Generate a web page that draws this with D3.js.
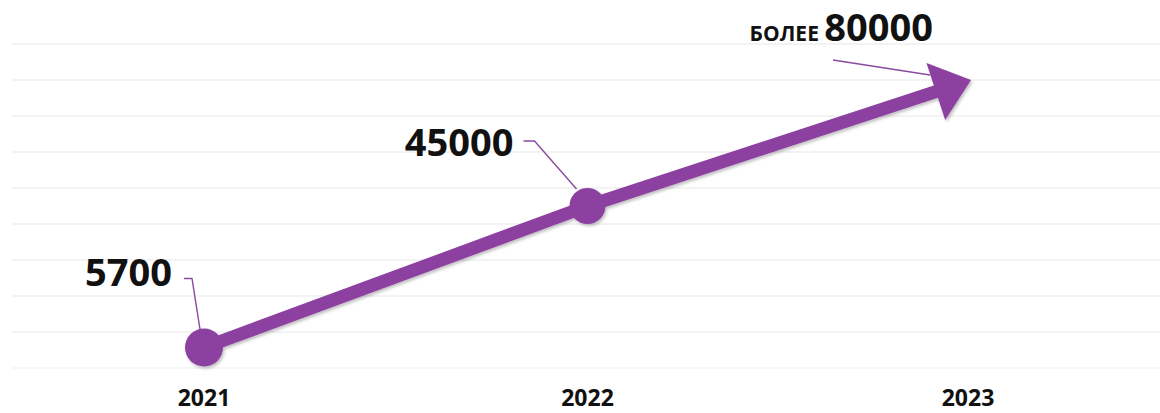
<!DOCTYPE html>
<html>
<head>
<meta charset="utf-8">
<script src="https://cdn.jsdelivr.net/npm/d3@7"></script>
<style>
  body { margin: 0; background: #fff; }
  svg { display: block; font-family: "Open Sans", sans-serif; }
</style>
</head>
<body>
<svg width="1160" height="413"></svg>
<script>
const years = ["2021", "2022", "2023"];
const values = [5700, 45000, 80000];
const labels = ["5700", "45000", "80000"];
const gridTicks = [0, 10000, 20000, 30000, 40000, 50000, 60000, 70000, 80000, 90000];

const svg = d3.select("svg");
const width = +svg.attr("width");
const purple = "#8c3fa0";

const x = d3.scalePoint().domain(years).range([204, 971]);
const y = d3.scaleLinear().domain([0, 90000]).range([368, 44]);

const data = years.map((yr, i) => ({ year: yr, value: values[i], label: labels[i] }));

// soft shadow like the original
const defs = svg.append("defs");
const f = defs.append("filter").attr("id", "shadow").attr("x", "-10%").attr("y", "-30%").attr("width", "120%").attr("height", "160%");
f.append("feDropShadow").attr("dx", 1.5).attr("dy", 2).attr("stdDeviation", 1.5)
  .attr("flood-color", "#000").attr("flood-opacity", 0.25);

// gridlines
svg.append("g")
  .selectAll("line")
  .data(gridTicks)
  .join("line")
  .attr("x1", 12)
  .attr("x2", width)
  .attr("y1", (d) => y(d))
  .attr("y2", (d) => y(d))
  .attr("stroke", (d) => (d === 0 ? "#f5f5f5" : "#efefef"))
  .attr("stroke-width", 1.5);

// arrow head geometry from last segment
const p1 = [x(data[1].year), y(data[1].value)];
const tip = [x(data[2].year), y(data[2].value)];
const dx = tip[0] - p1[0], dy = tip[1] - p1[1];
const len = Math.hypot(dx, dy);
const ux = dx / len, uy = dy / len;
const headLen = 37, headHalf = 30;
const base = [tip[0] - ux * headLen, tip[1] - uy * headLen];

const lineGen = d3.line();
const pts = [
  [x(data[0].year), y(data[0].value)],
  p1,
  [base[0] + ux * 4, base[1] + uy * 4],
];

const chart = svg.append("g").attr("filter", "url(#shadow)");

chart.append("path")
  .attr("d", lineGen(pts))
  .attr("fill", "none")
  .attr("stroke", purple)
  .attr("stroke-width", 13)
  .attr("stroke-linejoin", "round");

chart.append("path")
  .attr("d", lineGen([
    tip,
    [base[0] - uy * headHalf, base[1] + ux * headHalf],
    [base[0] + uy * headHalf, base[1] - ux * headHalf],
  ]) + "Z")
  .attr("fill", purple);

chart.selectAll("circle")
  .data(data.slice(0, 2))
  .join("circle")
  .attr("cx", (d) => x(d.year))
  .attr("cy", (d) => y(d.value))
  .attr("r", (d, i) => (i === 0 ? 19 : 18))
  .attr("fill", purple);

// annotation offsets relative to each point
const notes = [
  { tx: -32, ty: -61, leader: [[-20, -69], [-12, -69], [-4, -18]] },
  { tx: -74, ty: -50, leader: [[-64, -65], [-53, -65], [-11, -17]] },
  { tx: -38, ty: -39, leader: [[-138, -20], [-41, -5]] },
];

data.forEach((d, i) => {
  const px = x(d.year), py = y(d.value);
  const n = notes[i];
  svg.append("path")
    .attr("d", lineGen(n.leader.map((o) => [px + o[0], py + o[1]])))
    .attr("fill", "none")
    .attr("stroke", "#8a4a9e")
    .attr("stroke-width", 1.4);

  const t = svg.append("text")
    .attr("x", px + n.tx)
    .attr("y", py + n.ty)
    .attr("text-anchor", "end")
    .attr("font-weight", 700)
    .attr("fill", "#111");
  if (i === 2) {
    t.append("tspan").attr("font-size", 21).text("БОЛЕЕ ");
  }
  t.append("tspan").attr("font-size", 38).text(d.label);
});

// year labels
svg.append("g")
  .selectAll("text")
  .data(years)
  .join("text")
  .attr("x", (d) => x(d) - (d === "2023" ? 3 : 0))
  .attr("y", 406)
  .attr("text-anchor", "middle")
  .attr("font-size", 23)
  .attr("font-weight", 700)
  .attr("fill", "#111")
  .text((d) => d);
</script>
</body>
</html>
